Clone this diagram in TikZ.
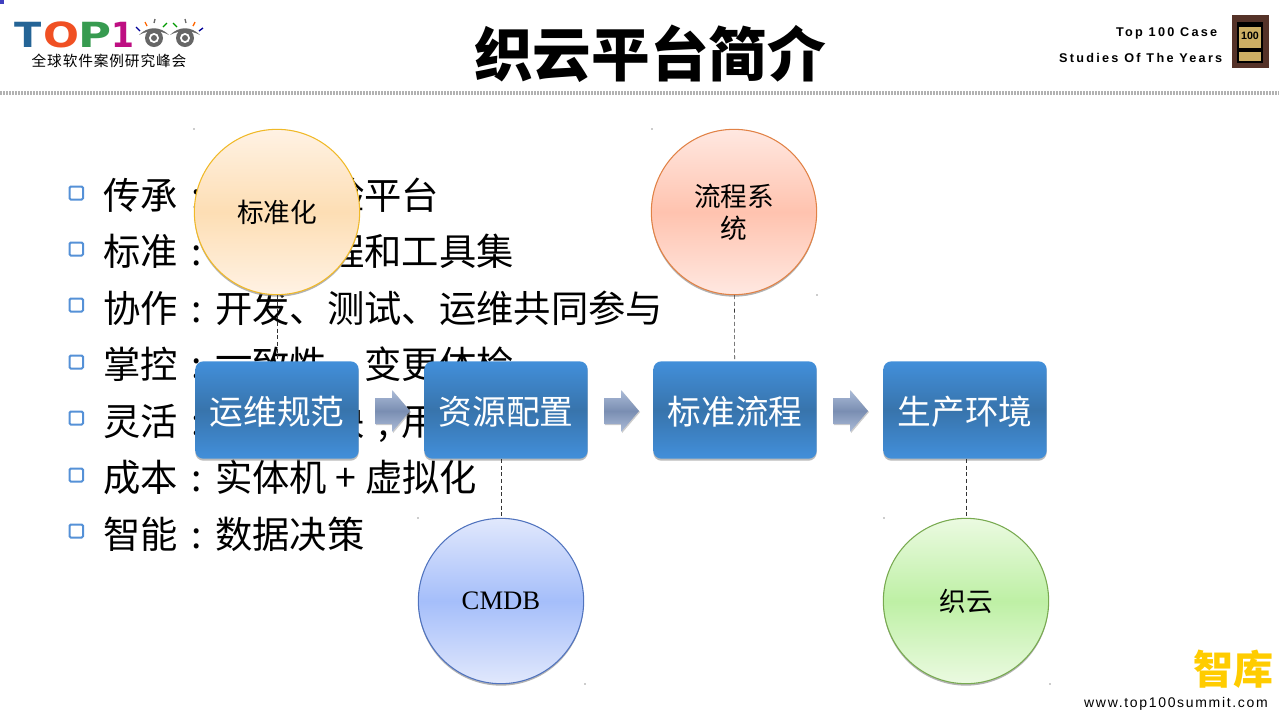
\documentclass[tikz,border=0pt]{standalone}
\usepackage{fontspec}
\setmainfont{Liberation Sans}
\newfontfamily\cjk{Noto Sans CJK SC}
\newfontfamily\heavy{DejaVu Sans}
\newfontfamily\serifcm{Liberation Serif}
\newfontfamily\spaced[LetterSpace=18]{Liberation Sans}
\newfontfamily\spacedsite[LetterSpace=12]{Liberation Sans}
\newfontfamily\spacedcjk[LetterSpace=6]{Noto Sans CJK SC}
\usetikzlibrary{shadows,calc}
\definecolor{boxmid}{RGB}{56,116,172}
\definecolor{boxedge}{RGB}{66,143,218}
\definecolor{bullet}{RGB}{85,145,215}
\definecolor{arrowedge}{RGB}{172,188,216}
\definecolor{arrowmid}{RGB}{122,142,178}
\definecolor{gold}{RGB}{205,175,100}
\definecolor{frame}{RGB}{85,50,40}
\newcommand{\cln}{\makebox[28pt]{:}}
\newcommand{\cmm}{\makebox[28pt]{,}}
\newcommand{\flowarrow}[1]{%
  \shade[top color=arrowedge, bottom color=arrowedge, middle color=arrowmid,
    drop shadow={shadow xshift=.8pt, shadow yshift=-.8pt, fill=black!40, opacity=.5}]
    (#1,398) -- (#1+17,398) -- (#1+17,390) -- (#1+35,411) -- (#1+17,432) -- (#1+17,424) -- (#1,424) -- cycle;}
\tikzset{
  x=0.75pt, y=-0.75pt,
  bodytext/.style={anchor=base west, inner sep=0pt, font=\cjk\fontsize{28}{28}\selectfont},
  logotext/.style={inner sep=0pt, xscale=#1, transform shape, font=\heavy\bfseries\fontsize{26}{26}\selectfont},
  stepbox/.style={rounded corners=6pt, minimum width=122.5pt, minimum height=73pt, inner sep=0pt,
    text height=22.2pt, text depth=0pt,
    top color=boxedge, bottom color=boxedge, middle color=boxmid, text=white,
    drop shadow={shadow xshift=0pt, shadow yshift=-1.5pt, fill=black!45, opacity=.6},
    font=\cjk\fontsize{25.3}{25.3}\selectfont},
  ball/.style={circle, minimum size=124pt, inner sep=0pt, align=center, text=black, line width=.8pt,
    drop shadow={shadow xshift=0pt, shadow yshift=-1.5pt, fill=black!50, opacity=.6},
    font=\cjk\fontsize{20}{24}\selectfont},
  link/.style={black!80, densely dashed, thin},
}
\begin{document}
\begin{tikzpicture}
\useasboundingbox (0,0) rectangle (1279,719);
% Header
\fill[blue!50!gray] (0,0) rectangle (4,4);
\draw (650,54) node[font=\cjk\bfseries\fontsize{44}{44}\selectfont] (title) {织云平台简介};
\draw[gray!60, line width=3pt, dash pattern=on 1.5pt off .75pt] (0,93) -- (1279,93);
% Logo
\draw (28,34.5) node[logotext=1.15, text={rgb,255:red,36;green,100;blue,150}] (logot) {T};
\draw (61,34.5) node[logotext=1.22, text={rgb,255:red,240;green,80;blue,35}] (logoo) {O};
\draw (95.5,34.5) node[logotext=1.3, text={rgb,255:red,55;green,155;blue,80}] (logop) {P};
\draw (123,34.5) node[logotext=.95, text={rgb,255:red,190;green,15;blue,130}] (logoone) {1};
\foreach \ex in {154,185} {
  \fill[black!60] (\ex,38) circle (9);
  \fill[white] (\ex,38) circle (5);
  \fill[black!60] (\ex,38) circle (3);
  \fill[black!60] (\ex-15,35) .. controls (\ex-6,26) and (\ex+6,26) .. (\ex+15,35)
     .. controls (\ex+6,30) and (\ex-6,30) .. cycle;
}
% Lashes
\foreach \ax/\ay/\bx/\by/\lc in {136/27/140/31/blue!60!black, 145/22/147/26/orange!80!red, 155/19/154/23/black!60, 167/23/163/27/green!60!black,
    173/23/177/27/green!60!black, 185/19/186/23/black!60, 195/22/193/26/orange!80!red, 203/28/199/31/blue!60!black}
  \draw[\lc, line width=1pt] (\ax,\ay) -- (\bx,\by);
\draw (109,61) node[font=\spacedcjk\fontsize{11}{11}\selectfont] (logocn) {全球软件案例研究峰会};
% Plaque
\fill[frame] (1232,15) rectangle (1269,68);
\fill[black] (1237,22) rectangle (1263,63);
\fill[gold] (1239,27) rectangle (1261,48);
\fill[gold] (1239,52) rectangle (1261,61);
\draw (1250,36) node[inner sep=0pt, font=\bfseries\fontsize{8}{8}\selectfont] (plaque) {100};
\draw (1222,33.5) node[anchor=east, font=\spaced\bfseries\fontsize{9.5}{10}\selectfont] (caseone) {Top 100 Case};
\draw (1227,57.5) node[anchor=east, font=\spaced\bfseries\fontsize{9.5}{10}\selectfont] (casetwo) {Studies Of The Years};
% Footer
\draw (1233,669) node[text={rgb,255:red,255;green,204;blue,0}, font=\cjk\bfseries\fontsize{30}{30}\selectfont] (brand) {智库};
\draw (1176,703.5) node[font=\spacedsite\fontsize{10.5}{11}\selectfont] (site) {www.top100summit.com};
% Bullets
\foreach \by in {193,249,305,362,418,475,531}
  \draw[bullet, line width=1.5pt, fill=white, rounded corners=1pt] (69.5,\by-6.5) rectangle (83,\by+6.5);
\draw (103,209) node[bodytext] (lineone) {传承\cln\hspace{84pt}验平台};
\draw (103,265.5) node[bodytext] (linetwo) {标准\cln\hspace{84pt}程和工具集};
\draw (103,322) node[bodytext] (linethree) {协作\cln 开发、测试、运维共同参与};
\draw (103,378) node[bodytext] (linefour) {掌控\cln\raisebox{4pt}{一}致性、变更体检};
\draw (103,435) node[bodytext] (linefive) {灵活\cln\hspace{84pt}块\cmm 用};
\draw (103,491) node[bodytext] (linesix) {成本\cln 实体机\kern6.5pt+\kern6.5pt虚拟化};
\draw (103,548) node[bodytext] (lineseven) {智能\cln 数据决策};
% Process boxes
\draw (277,410) node[stepbox] (ops) {运维规范};
\draw (506,410) node[stepbox] (res) {资源配置};
\draw (735,410) node[stepbox] (std) {标准流程};
\draw (965,410) node[stepbox] (prod) {生产环境};
% Balls
\draw (277,212) node[ball, draw={rgb,255:red,240;green,185;blue,40},
  top color={rgb,255:red,255;green,242;blue,228}, bottom color={rgb,255:red,255;green,242;blue,228}, middle color={rgb,255:red,253;green,222;blue,180}] (ballstd) {标准化};
\draw (734,212) node[ball, draw={rgb,255:red,225;green,130;blue,70},
  top color={rgb,255:red,255;green,232;blue,225}, bottom color={rgb,255:red,255;green,232;blue,225}, middle color={rgb,255:red,255;green,195;blue,175}] (ballflow) {流程系\\统};
\draw (501,601) node[ball, draw={rgb,255:red,80;green,115;blue,190},
  top color={rgb,255:red,225;green,232;blue,252}, bottom color={rgb,255:red,225;green,232;blue,252}, middle color={rgb,255:red,165;green,190;blue,250}, font=\serifcm\fontsize{20}{24}\selectfont] (ballcmdb) {CMDB};
\draw (966,601) node[ball, draw={rgb,255:red,120;green,170;blue,80},
  top color={rgb,255:red,235;green,250;blue,225}, bottom color={rgb,255:red,235;green,250;blue,225}, middle color={rgb,255:red,190;green,240;blue,165}] (ballzy) {织云};
% Links
\draw[link] (ballstd) -- (ops);
\draw[link] (ballflow) -- (std);
\draw[link] (res.south -| ballcmdb) -- (ballcmdb);
\draw[link] (prod.south -| ballzy) -- (ballzy);
% Arrows
\flowarrow{375}
\flowarrow{604}
\flowarrow{833}
% Corner marks
\foreach \mx/\my in {194/129,652/129,817/295,418/518,585/684,884/518,1050/684}
  \fill[black!40] (\mx,\my) circle (0.8);
\end{tikzpicture}
\end{document}
